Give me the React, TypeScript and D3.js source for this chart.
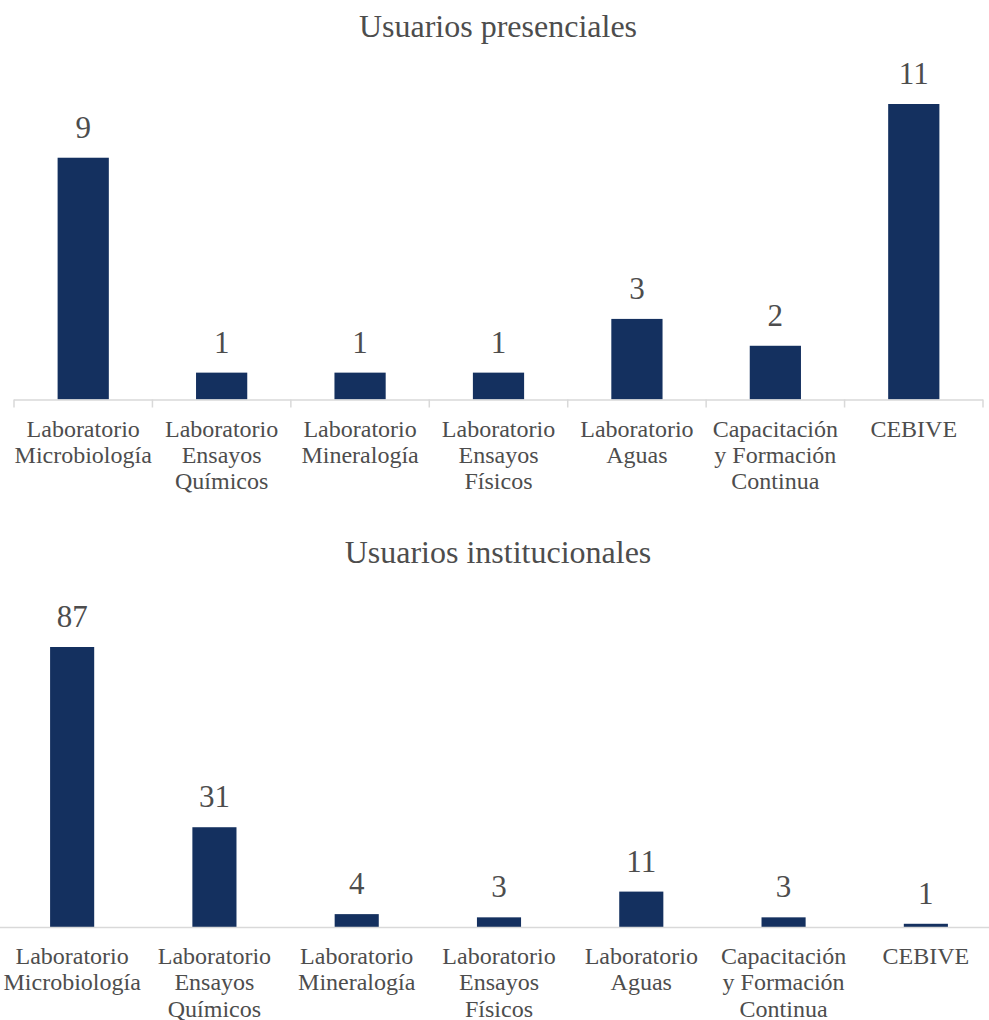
import React from "react";
import * as d3 from "d3";

const categories: string[][] = [
  ["Laboratorio", "Microbiología"],
  ["Laboratorio", "Ensayos", "Químicos"],
  ["Laboratorio", "Mineralogía"],
  ["Laboratorio", "Ensayos", "Físicos"],
  ["Laboratorio", "Aguas"],
  ["Capacitación", "y Formación", "Continua"],
  ["CEBIVE"],
];
const presenciales: number[] = [9, 1, 1, 1, 3, 2, 11];
const institucionales: number[] = [87, 31, 4, 3, 11, 3, 1];

const BAR = "#14305F";
const TEXT = "#4D4D4D";
const AXIS = "#D9D9D9";
const FONT = '"Liberation Serif", "Times New Roman", "DejaVu Serif", serif';

type PanelProps = {
  title: string;
  values: number[];
  titleY: number;
  x0: number;
  x1: number;
  lineX0: number;
  lineX1: number;
  baseY: number;
  topY: number;
  padding: number;
  ticks: boolean;
};

function Panel({ title, values, titleY, x0, x1, lineX0, lineX1, baseY, topY, padding, ticks }: PanelProps) {
  const idx = values.map((_, i) => String(i));
  const x = d3.scaleBand<string>().domain(idx).range([x0, x1]).paddingInner(padding).paddingOuter(padding / 2);
  const maxV = d3.max(values) as number;
  const y = d3.scaleLinear().domain([0, maxV]).range([baseY, topY]);
  const step = x.step();
  const boundaries = d3.range(values.length + 1).map((i) => x0 + i * step);
  const ts = { fontFamily: FONT, fill: TEXT };
  return (
    <g>
      <text x={498} y={titleY} textAnchor="middle" style={{ ...ts, fontSize: 32 }}>
        {title}
      </text>
      {values.map((v, i) => (
        <g key={i}>
          <rect x={x(String(i))} y={y(v)} width={x.bandwidth()} height={baseY - y(v)} fill={BAR} />
          <text
            x={(x(String(i)) as number) + x.bandwidth() / 2}
            y={y(v) - 20}
            textAnchor="middle"
            style={{ ...ts, fontSize: 31 }}
          >
            {v}
          </text>
        </g>
      ))}
      <line x1={lineX0} x2={lineX1} y1={baseY + 0.5} y2={baseY + 0.5} stroke={AXIS} strokeWidth={1.5} />
      {ticks &&
        boundaries.map((b, i) => (
          <line key={i} x1={b} x2={b} y1={baseY} y2={baseY + 8} stroke={AXIS} strokeWidth={1.5} />
        ))}
      {categories.map((lines, i) => (
        <text
          key={i}
          x={(x(String(i)) as number) + x.bandwidth() / 2}
          y={baseY + 37}
          textAnchor="middle"
          style={{ ...ts, fontSize: 24 }}
        >
          {lines.map((l, j) => (
            <tspan key={j} x={(x(String(i)) as number) + x.bandwidth() / 2} dy={j === 0 ? 0 : 26.3}>
              {l}
            </tspan>
          ))}
        </text>
      ))}
    </g>
  );
}

export default function App() {
  return (
    <svg
      width={989}
      height={1020}
      style={{ position: "absolute", left: 0, top: 0, background: "#fff" }}
    >
      <rect width={989} height={1020} fill="#fff" />
      <Panel
        title="Usuarios presenciales"
        values={presenciales}
        titleY={37}
        x0={14}
        x1={983}
        lineX0={14}
        lineX1={983}
        baseY={399.5}
        topY={104}
        padding={0.63}
        ticks={true}
      />
      <Panel
        title="Usuarios institucionales"
        values={institucionales}
        titleY={563}
        x0={1}
        x1={997}
        lineX0={0}
        lineX1={989}
        baseY={927}
        topY={647}
        padding={0.69}
        ticks={false}
      />
    </svg>
  );
}
